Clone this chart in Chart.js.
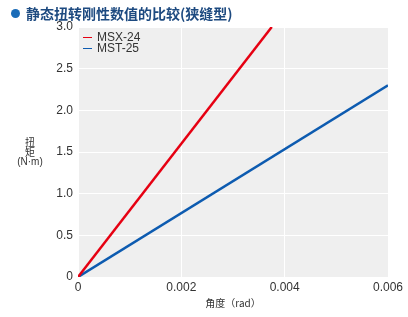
<!DOCTYPE html>
<html>
<head>
<meta charset="utf-8">
<script src="https://cdn.jsdelivr.net/npm/chart.js@4/dist/chart.umd.min.js"></script>
<style>
  html, body { margin: 0; padding: 0; background: #fff; }
  #wrap { position: relative; width: 408px; height: 317px; }
  #title {
    position: absolute; left: 11px; top: 3px;
    font: bold 14px "Noto Sans CJK SC", sans-serif; color: #1d4a80;
    white-space: nowrap; line-height: 20px;
  }
  #title .dot {
    display: inline-block; width: 9px; height: 9px; border-radius: 50%;
    background: #1a6cb8; margin-right: 6px; vertical-align: 1px;
  }
  canvas { position: absolute; left: 0; top: 0; }
</style>
</head>
<body>
<div id="wrap">
  <canvas id="c" width="408" height="317"></canvas>
  <div id="title"><span class="dot"></span>静态扭转刚性数值的比较(狭缝型)</div>
</div>
<script>
// ---------- data ----------
const seriesNames = ["MSX-24", "MST-25"];
const msxAngle = [0, 0.00375];
const msxTorque = [0, 3.0];
const mstAngle = [0, 0.006];
const mstTorque = [0, 2.3];
const xTicks = [0, 0.002, 0.004, 0.006];
const yTicks = [0, 0.5, 1.0, 1.5, 2.0, 2.5, 3.0];

const toPts = (xs, ys) => xs.map((x, i) => ({ x: x, y: ys[i] }));
const colors = ["#e60012", "#0d5bb0"];

// grey plot background
const plotBg = {
  id: "plotBg",
  beforeDraw(chart) {
    const a = chart.chartArea, ctx = chart.ctx;
    ctx.save();
    ctx.fillStyle = "#efefef";
    ctx.fillRect(a.left, a.top, a.right - a.left, a.bottom - a.top);
    ctx.restore();
  },
};

// stacked horizontal y title + inside legend
const extras = {
  id: "extras",
  afterDraw(chart) {
    const a = chart.chartArea, ctx = chart.ctx;
    ctx.save();
    ctx.fillStyle = "#333";
    ctx.textAlign = "center";
    ctx.textBaseline = "middle";
    ctx.font = '10px "Noto Sans CJK SC", sans-serif';
    ctx.fillText("扭", 30, 142);
    ctx.fillText("矩", 30, 152);
    ctx.font = '10px "Liberation Sans", Arial, sans-serif';
    ctx.fillText("(N·m)", 30, 162);

    ctx.textAlign = "left";
    ctx.font = '12px "Liberation Sans", Arial, sans-serif';
    seriesNames.forEach((name, i) => {
      const y = a.top + 10 + i * 11;
      ctx.strokeStyle = colors[i];
      ctx.lineWidth = 1;
      ctx.beginPath();
      ctx.moveTo(a.left + 5, y + 0.5);
      ctx.lineTo(a.left + 14, y + 0.5);
      ctx.stroke();
      ctx.fillStyle = "#333";
      ctx.fillText(name, a.left + 19, y + 1);
    });
    ctx.restore();
  },
};

new Chart(document.getElementById("c"), {
  type: "scatter",
  data: {
    datasets: [
      { label: seriesNames[0], data: toPts(msxAngle, msxTorque), borderColor: colors[0], showLine: true, borderWidth: 2.5, pointRadius: 0 },
      { label: seriesNames[1], data: toPts(mstAngle, mstTorque), borderColor: colors[1], showLine: true, borderWidth: 2.5, pointRadius: 0 },
    ],
  },
  options: {
    responsive: false,
    animation: false,
    layout: { padding: { top: 27, right: 20, left: 0, bottom: 0 } },
    plugins: { legend: { display: false }, tooltip: { enabled: false } },
    scales: {
      x: {
        type: "linear", min: 0, max: 0.006,
        afterBuildTicks: (s) => { s.ticks = xTicks.map((v) => ({ value: v })); },
        afterFit: (s) => { s.height = 40; },
        ticks: {
          color: "#333", font: { size: 12, family: '"Liberation Sans", Arial, sans-serif' }, padding: 3,
          maxRotation: 0, callback: (v) => (v === 0 ? "0" : v.toFixed(3)),
        },
        grid: { color: "#fff", lineWidth: 1, drawTicks: false },
        border: { display: false },
        title: { display: true, text: "角度（rad）", color: "#333", font: { size: 10, family: '"Noto Sans CJK SC", sans-serif' }, padding: { top: 0, bottom: 8 } },
      },
      y: {
        type: "linear", min: 0, max: 3,
        afterBuildTicks: (s) => { s.ticks = yTicks.map((v) => ({ value: v })); },
        afterFit: (s) => { s.width = 78; },
        ticks: {
          color: "#333", font: { size: 12, family: '"Liberation Sans", Arial, sans-serif' }, padding: 5,
          callback: (v) => (v === 0 ? "0" : v.toFixed(1)),
        },
        grid: { color: "#fff", lineWidth: 1, drawTicks: false },
        border: { display: false },
      },
    },
  },
  plugins: [plotBg, extras],
});
</script>
</body>
</html>
